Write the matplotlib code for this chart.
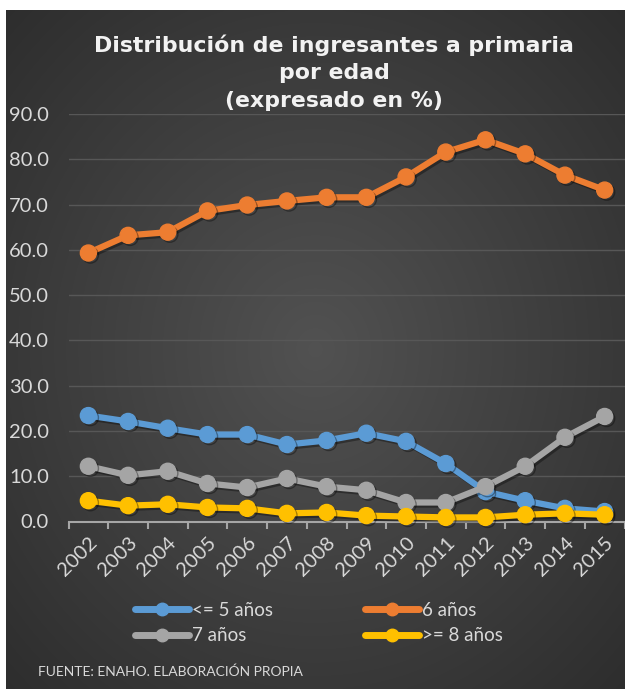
import numpy as np
import matplotlib
matplotlib.use("Agg")
import matplotlib.pyplot as plt
from matplotlib.lines import Line2D
import matplotlib.patheffects as pe

years = ["2002", "2003", "2004", "2005", "2006", "2007", "2008",
         "2009", "2010", "2011", "2012", "2013", "2014", "2015"]
le5 = [23.4, 22.1, 20.6, 19.2, 19.2, 17.0, 17.9, 19.5, 17.7, 12.8, 6.6, 4.6, 2.9, 2.2]
six = [59.3, 63.2, 63.9, 68.6, 69.9, 70.8, 71.6, 71.6, 76.1, 81.6, 84.3, 81.2, 76.5, 73.2]
seven = [12.2, 10.2, 11.1, 8.4, 7.5, 9.5, 7.7, 6.9, 4.2, 4.2, 7.7, 12.2, 18.6, 23.2]
ge8 = [4.6, 3.5, 3.8, 3.1, 2.9, 1.8, 2.0, 1.3, 1.1, 0.9, 0.9, 1.5, 1.8, 1.5]
series_names = ["<= 5 años", "6 años", "7 años", ">= 8 años"]
series_vals = [le5, six, seven, ge8]
colors = ["#5B9BD5", "#ED7D31", "#A5A5A5", "#FFC000"]
yticks = [0, 10, 20, 30, 40, 50, 60, 70, 80, 90]

W, H = 625, 689
fig = plt.figure(figsize=(W / 100, H / 100), dpi=100)
fig.patch.set_facecolor("white")

# dark gradient panel
bg = fig.add_axes([6 / W, 0, (W - 6) / W, (H - 10) / H])
bg.set_axis_off()
yy, xx = np.mgrid[0:1:300j, 0:1:300j]
r = np.sqrt(((xx - 0.5) / 0.75) ** 2 + ((yy - 0.5) / 0.75) ** 2)
val = np.clip(0.32 - 0.15 * r, 0.16, 0.34)
img = np.dstack([val, val, val])
bg.imshow(img, extent=[0, 1, 0, 1], aspect="auto", interpolation="bilinear")
bg.set_xlim(0, 1)
bg.set_ylim(0, 1)

font = "Lato"
tick_col = "#D9D9D9"

ax = fig.add_axes([68.5 / W, 1 - 521.5 / H, 556 / W, (521.5 - 114) / H])
ax.set_facecolor("none")
x = np.arange(len(years))
shadow = [pe.SimpleLineShadow(offset=(1.5, -1.5), shadow_color="black", alpha=0.35), pe.Normal()]
for name, vals, c in zip(series_names, series_vals, colors):
    ax.plot(x, vals, color=c, lw=4.5, marker="o", markersize=11.5,
            markerfacecolor=c, markeredgecolor=c, solid_capstyle="round",
            label=name, path_effects=shadow, clip_on=False, zorder=3)

ax.set_xlim(-0.5, len(years) - 0.5)
ax.set_ylim(0, 90)
ax.set_yticks(yticks)
ax.set_yticklabels([f"{v:.1f}" for v in yticks], fontname=font, fontsize=14.5, color=tick_col)
ax.set_xticks(x)
ax.set_xticklabels(years, rotation=45, ha="right", va="top", rotation_mode="anchor",
                   fontname=font, fontsize=14.5, color=tick_col)
ax.tick_params(axis="x", which="major", length=0, pad=9)
ax.set_xticks(np.arange(-0.5, len(years)), minor=True)
ax.tick_params(axis="x", which="minor", length=5, width=1.5, color="#A6A6A6")
ax.tick_params(axis="y", length=0, pad=14)
for v in yticks[1:]:
    ax.axhline(v, color="#575757", lw=1.0, zorder=1)
for s in ["top", "right", "left"]:
    ax.spines[s].set_visible(False)
ax.spines["bottom"].set_color("#A6A6A6")
ax.spines["bottom"].set_linewidth(1.5)

# title
title_lines = ["Distribución de ingresantes a primaria", "por edad", "(expresado en %)"]
for i, t in enumerate(title_lines):
    fig.text(334 / W, 1 - (45 + 28 * i) / H, t, ha="center", va="center",
             fontsize=15.8, fontweight="bold", color="#F2F2F2", family="DejaVu Sans")

# legend
handles = [Line2D([0], [0], color=c, lw=5, marker="o", markersize=9, solid_capstyle="round")
           for c in colors]
order = [0, 2, 1, 3]
leg = fig.legend([handles[i] for i in order], [series_names[i] for i in order],
                 ncol=2, loc="center left", bbox_to_anchor=(118 / W, 1 - 623 / H),
                 frameon=False, handlelength=2.9, handletextpad=0.15, columnspacing=4.9,
                 labelspacing=0.45, prop={"family": font, "size": 13.5})
for t in leg.get_texts():
    t.set_color(tick_col)

fig.text(38 / W, 1 - 672 / H, "FUENTE: ENAHO. ELABORACIÓN PROPIA", ha="left", va="center",
         fontsize=10, color=tick_col, family=font)

fig.savefig("out.png", dpi=100, facecolor=fig.get_facecolor())
